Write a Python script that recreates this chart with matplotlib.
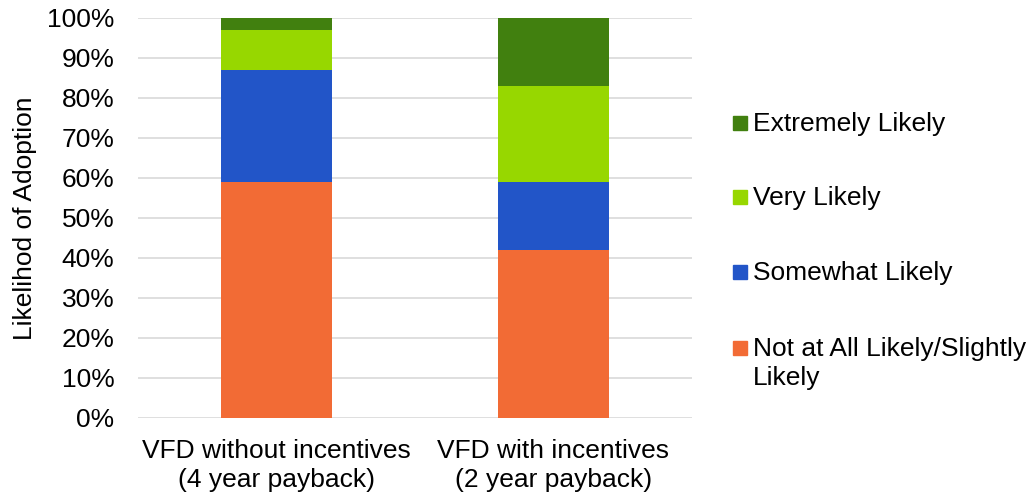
import matplotlib
matplotlib.use("Agg")
import matplotlib.pyplot as plt
from matplotlib.patches import Rectangle
from matplotlib.ticker import PercentFormatter

plt.rcParams['font.family'] = ['Liberation Sans', 'DejaVu Sans']

categories = ["VFD without incentives\n(4 year payback)", "VFD with incentives\n(2 year payback)"]
series_names = ["Not at All Likely/Slightly\nLikely", "Somewhat Likely", "Very Likely", "Extremely Likely"]
not_likely = [59, 42]
somewhat_likely = [28, 17]
very_likely = [10, 24]
extremely_likely = [3, 17]
series_values = [not_likely, somewhat_likely, very_likely, extremely_likely]
colors = ["#F26B35", "#2255C8", "#97D700", "#41800F"]

FS = 19

fig = plt.figure(figsize=(10.34, 4.97), dpi=100)
ax = fig.add_axes([0.1335, 0.159, 0.5355, 0.8048])

x = range(len(categories))
bottom = [0] * len(categories)
for vals, col in zip(series_values, colors):
    ax.bar(x, vals, bottom=bottom, width=0.4, color=col, zorder=2)
    bottom = [b + v for b, v in zip(bottom, vals)]

ax.set_xlim(-0.5, len(categories) - 0.5)
ax.set_ylim(0, 100)
ax.set_yticks(range(0, 101, 10))
ax.yaxis.set_major_formatter(PercentFormatter(decimals=0))
ax.set_xticks(list(x))
ax.set_xticklabels(categories, fontsize=FS, linespacing=1.25)
ax.tick_params(axis='y', length=0, pad=17, labelsize=FS)
ax.tick_params(axis='x', length=0, pad=15)
ax.grid(axis='y', color='#D9D9D9', linewidth=1.2, zorder=0)
for s in ax.spines.values():
    s.set_visible(False)
ax.set_ylabel("Likelihod of Adoption", fontsize=FS, labelpad=7)

# legend entries, stacked top-down in reverse series order
W, H = fig.get_size_inches() * fig.dpi
y_positions = [123, 197, 272, 348]
for name, col, yp in zip(series_names[::-1], colors[::-1], y_positions):
    fig.patches.append(Rectangle((733 / W, 1 - (yp + 7) / H), 14 / W, 14 / H,
                                 transform=fig.transFigure, color=col))
    fig.text(753 / W, 1 - (yp - 11) / H, name, fontsize=FS, va='top', ha='left',
             linespacing=1.27, transform=fig.transFigure)

fig.savefig("out.png", dpi=100)
